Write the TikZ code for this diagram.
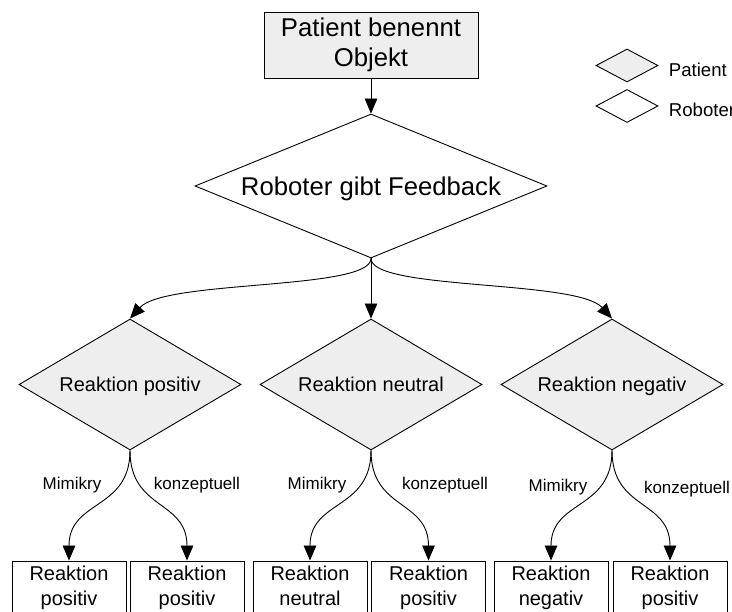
\documentclass[tikz,border=0pt]{standalone}
\usepackage{fontspec}
\setmainfont{Liberation Sans}
\usetikzlibrary{shapes.geometric,arrows.meta}
\definecolor{fillgray}{HTML}{EEEEEE}

\begin{document}
\begin{tikzpicture}[x=1pt,y=-1pt,
  line width=0.9pt,
  >={Triangle[length=15pt,width=12.5pt]},
  box/.style={draw,rectangle,inner sep=0pt,align=center},
  startbox/.style={box,fill=fillgray,minimum width=214pt,minimum height=66pt,
    font=\fontsize{25.7}{29.6}\selectfont},
  leafbox/.style={box,minimum width=114pt,minimum height=53pt,
    execute at end node={\vphantom{pg}},
    font=\fontsize{20}{25}\selectfont},
  bigdia/.style={draw,diamond,inner sep=0pt,shape aspect=2.44,
    minimum width=352pt,minimum height=144pt,
    text height=18.4pt,text depth=0pt,
    font=\fontsize{25.7}{29.6}\selectfont},
  middia/.style={draw,diamond,fill=fillgray,inner sep=0pt,shape aspect=1.69,
    minimum width=222pt,minimum height=131pt,
    text height=14.3pt,text depth=0pt,
    font=\fontsize{20}{24}\selectfont},
  legdia/.style={draw,diamond,inner sep=0pt,shape aspect=1.9,
    minimum width=62pt,minimum height=33pt},
  lbl/.style={inner sep=0pt,font=\fontsize{17}{20}\selectfont},
  legtxt/.style={inner sep=0pt,anchor=west,font=\fontsize{18.6}{22}\selectfont},
]
\useasboundingbox (0,0) rectangle (732,612);
\clip (0,0) rectangle (732,612);

% start and feedback
\node[startbox] (obj) at (371,45) {Patient benennt\\Objekt};
\node[bigdia] (fb) at (371,186) {Roboter gibt Feedback};

% patient reactions
\node[middia] (rp) at (130,384.5) {Reaktion positiv};
\node[middia] (rn) at (371,384.5) {Reaktion neutral};
\node[middia] (rg) at (612,384.5) {Reaktion negativ};

% robot answers
\node[leafbox] (l1) at (69,587.5)  {Reaktion\\positiv};
\node[leafbox] (l2) at (187,587.5) {Reaktion\\positiv};
\node[leafbox] (l3) at (310,587.5) {Reaktion\\neutral};
\node[leafbox] (l4) at (428.5,587.5) {Reaktion\\positiv};
\node[leafbox] (l5) at (551,587.5) {Reaktion\\negativ};
\node[leafbox] (l6) at (670,587.5) {Reaktion\\positiv};

% legend
\node[legdia,fill=fillgray] (legp) at (627,65.5) {};
\node[legdia] (legr) at (627,106) {};
\node[legtxt] at ([shift={(10,4.3)}]legp.east) {Patient};
\node[legtxt] at ([shift={(10,3.7)}]legr.east) {Roboter};

% connectors
\draw[->] (obj.south) -- (fb.north);
\draw[->] (fb.south) .. controls +(0,32) and +(35,-39) .. (rp.north);
\draw[->] (fb.south) -- (rn.north);
\draw[->] (fb.south) .. controls +(0,32) and +(-35,-39) .. (rg.north);

\draw[->] (rp.south) .. controls +(0,60) and +(0,-61) .. (l1.north);
\draw[->] (rp.south) .. controls +(0,60) and +(0,-61) .. (l2.north);
\draw[->] (rn.south) .. controls +(0,60) and +(0,-61) .. (l3.north);
\draw[->] (rn.south) .. controls +(0,60) and +(0,-61) .. (l4.north);
\draw[->] (rg.south) .. controls +(0,60) and +(0,-61) .. (l5.north);
\draw[->] (rg.south) .. controls +(0,60) and +(0,-61) .. (l6.north);

% connector labels
\node[lbl] at ([shift={(-58,35)}]rp.south) {Mimikry};
\node[lbl] at ([shift={(67,35)}]rp.south) {konzeptuell};
\node[lbl] at ([shift={(-54,35)}]rn.south) {Mimikry};
\node[lbl] at ([shift={(74,35)}]rn.south) {konzeptuell};
\node[lbl] at ([shift={(-54,37)}]rg.south) {Mimikry};
\node[lbl] at ([shift={(75,39)}]rg.south) {konzeptuell};
\end{tikzpicture}
\end{document}
